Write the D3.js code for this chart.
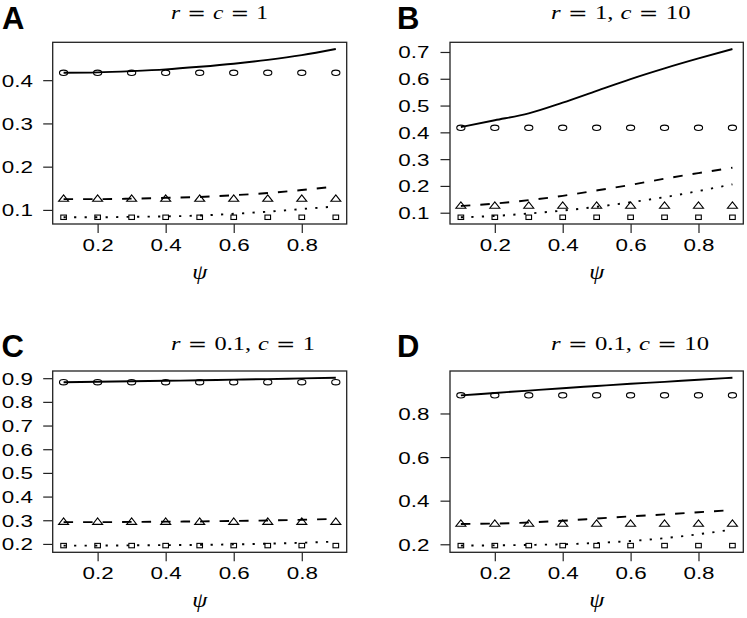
<!DOCTYPE html>
<html><head><meta charset="utf-8">
<script src="https://cdn.jsdelivr.net/npm/d3@7"></script>
<style>body{margin:0;background:#fff}</style>
</head><body>
<svg id="chart" width="747" height="618"></svg>
<script>
// ---- data ----
const psi = [0.1, 0.2, 0.3, 0.4, 0.5, 0.6, 0.7, 0.8, 0.9];
const xTicks = [0.2, 0.4, 0.6, 0.8];
const panelLetters = ["A", "B", "C", "D"];
// title tokens: [text, kind]  kind: "i" italic variable, "n" upright, "op" relation
const panelTitles = [
  [["r", "i"], ["=", "op"], ["c", "i"], ["=", "op"], ["1", "n"]],
  [["r", "i"], ["=", "op"], ["1,", "n"], ["c", "i"], ["=", "op"], ["10", "n"]],
  [["r", "i"], ["=", "op"], ["0.1,", "n"], ["c", "i"], ["=", "op"], ["1", "n"]],
  [["r", "i"], ["=", "op"], ["0.1,", "n"], ["c", "i"], ["=", "op"], ["10", "n"]]
];
const yTicksA = [0.1, 0.2, 0.3, 0.4];
const yTicksB = [0.1, 0.2, 0.3, 0.4, 0.5, 0.6, 0.7];
const yTicksC = [0.2, 0.3, 0.4, 0.5, 0.6, 0.7, 0.8, 0.9];
const yTicksD = [0.2, 0.4, 0.6, 0.8];

// Panel A (r = c = 1)
const solidA  = [0.417, 0.418, 0.421, 0.425, 0.431, 0.438, 0.447, 0.458, 0.472];
const circleA = [0.417, 0.417, 0.417, 0.417, 0.417, 0.417, 0.417, 0.417, 0.417];
const dashA   = [0.125, 0.125, 0.126, 0.128, 0.130, 0.134, 0.139, 0.146, 0.154];
const triA    = [0.125, 0.125, 0.125, 0.125, 0.125, 0.125, 0.125, 0.125, 0.125];
const dotA    = [0.083, 0.083, 0.084, 0.085, 0.087, 0.091, 0.096, 0.102, 0.108];
const sqA     = [0.083, 0.083, 0.083, 0.083, 0.083, 0.083, 0.083, 0.083, 0.083];
// Panel B (r = 1, c = 10)
const solidB  = [0.420, 0.445, 0.471, 0.511, 0.555, 0.599, 0.639, 0.676, 0.711];
const circleB = [0.417, 0.417, 0.417, 0.417, 0.417, 0.417, 0.417, 0.417, 0.417];
const dashB   = [0.125, 0.134, 0.147, 0.163, 0.183, 0.204, 0.227, 0.248, 0.268];
const triB    = [0.125, 0.125, 0.125, 0.125, 0.125, 0.125, 0.125, 0.125, 0.125];
const dotB    = [0.083, 0.088, 0.097, 0.108, 0.122, 0.139, 0.158, 0.181, 0.206];
const sqB     = [0.083, 0.083, 0.083, 0.083, 0.083, 0.083, 0.083, 0.083, 0.083];
// Panel C (r = 0.1, c = 1)
const solidC  = [0.883, 0.885, 0.887, 0.889, 0.891, 0.894, 0.896, 0.899, 0.902];
const circleC = [0.883, 0.883, 0.883, 0.883, 0.883, 0.883, 0.883, 0.883, 0.883];
const dashC   = [0.292, 0.292, 0.293, 0.294, 0.295, 0.297, 0.299, 0.302, 0.306];
const triC    = [0.292, 0.292, 0.292, 0.292, 0.292, 0.292, 0.292, 0.292, 0.292];
const dotC    = [0.193, 0.193, 0.194, 0.195, 0.196, 0.198, 0.201, 0.205, 0.210];
const sqC     = [0.193, 0.193, 0.193, 0.193, 0.193, 0.193, 0.193, 0.193, 0.193];
// Panel D (r = 0.1, c = 10)
const solidD  = [0.883, 0.894, 0.905, 0.916, 0.926, 0.936, 0.945, 0.955, 0.964];
const circleD = [0.883, 0.883, 0.883, 0.883, 0.883, 0.883, 0.883, 0.883, 0.883];
const dashD   = [0.293, 0.295, 0.300, 0.308, 0.318, 0.328, 0.337, 0.347, 0.357];
const triD    = [0.293, 0.293, 0.293, 0.293, 0.293, 0.293, 0.293, 0.293, 0.293];
const dotD    = [0.194, 0.195, 0.197, 0.200, 0.206, 0.215, 0.228, 0.246, 0.268];
const sqD     = [0.194, 0.194, 0.194, 0.194, 0.194, 0.194, 0.194, 0.194, 0.194];

// ---- layout ----
const panels = [
  {letter: panelLetters[0], title: panelTitles[0], yTicks: yTicksA, lines: [solidA, dashA, dotA], marks: [circleA, triA, sqA],
   x0: 52.7, x1: 346.7, y0: 42.3, y1: 224, lx: 2, ly: 28.5, tx: 171, ty: 19.3, tw: 97, ylabR: 33},
  {letter: panelLetters[1], title: panelTitles[1], yTicks: yTicksB, lines: [solidB, dashB, dotB], marks: [circleB, triB, sqB],
   x0: 450, x1: 743.3, y0: 42.3, y1: 224, lx: 397, ly: 28.5, tx: 551, ty: 19.3, tw: 139.5, ylabR: 429.5},
  {letter: panelLetters[2], title: panelTitles[2], yTicks: yTicksC, lines: [solidC, dashC, dotC], marks: [circleC, triC, sqC],
   x0: 52.7, x1: 346.7, y0: 371, y1: 552.3, lx: 1.5, ly: 357, tx: 171, ty: 350, tw: 144, ylabR: 33},
  {letter: panelLetters[3], title: panelTitles[3], yTicks: yTicksD, lines: [solidD, dashD, dotD], marks: [circleD, triD, sqD],
   x0: 450, x1: 743.3, y0: 371, y1: 552.3, lx: 397, ly: 357.3, tx: 551, ty: 350, tw: 158, ylabR: 429.5}
];
const dashes = [null, "9.5,10", "2.2,8.3"];
const SX = 1.4;   // horizontal stretch of tick labels in the original raster
const TFS = 18.5; // title font size

const svg = d3.select("#chart");
svg.append("rect").attr("width", 747).attr("height", 618).attr("fill", "#fff");

function pad(ext) { const d = (ext[1] - ext[0]) * 0.04; return [ext[0] - d, ext[1] + d]; }

panels.forEach(p => {
  const g = svg.append("g");
  const x = d3.scaleLinear().domain(pad(d3.extent(psi))).range([p.x0, p.x1]);
  const all = p.lines.concat(p.marks).flat();
  const y = d3.scaleLinear().domain(pad(d3.extent(all))).range([p.y1, p.y0]);

  // panel letter
  g.append("text").attr("x", p.lx).attr("y", p.ly)
    .attr("font-family", "Liberation Sans, Arial, sans-serif").attr("font-weight", "bold")
    .attr("font-size", 31).attr("fill", "#000").text(p.letter);

  // title (math style): thick spaces around relations, thin space after commas
  const t = g.append("text").attr("font-family", "Liberation Serif, serif").attr("font-size", TFS).attr("fill", "#000");
  let prevKind = null, prevText = "";
  p.title.forEach((seg, i) => {
    let dx = 0;
    if (i > 0) {
      if (seg[1] === "op" || prevKind === "op") dx = 0.3 * TFS;
      else if (prevText.endsWith(",")) dx = 0.28 * TFS;
    }
    const ts = t.append("tspan").attr("dx", dx).text(seg[0]);
    if (seg[1] === "i") ts.attr("font-style", "italic");
    if (seg[1] === "op") ts.attr("font-family", "DejaVu Sans, sans-serif").attr("font-size", TFS * 0.95);
    prevKind = seg[1]; prevText = seg[0];
  });
  const natural = t.node().getBBox().width;
  t.attr("transform", `translate(${p.tx},${p.ty}) scale(${p.tw / natural},1)`);

  // y axis
  const yAxis = d3.axisLeft(y).tickValues(p.yTicks).tickSize(9.5).tickPadding(0).tickFormat(d3.format(".1f"));
  const ya = g.append("g").attr("transform", `translate(${p.x0},0)`).call(yAxis);
  ya.select(".domain").remove();
  ya.selectAll(".tick line").attr("stroke", "#222").attr("stroke-width", 1.2);
  ya.selectAll(".tick text").attr("x", null).attr("dy", null)
    .attr("font-family", "Liberation Sans, Arial, sans-serif").attr("font-size", 16).attr("fill", "#000")
    .attr("text-anchor", "end")
    .attr("transform", `translate(${p.ylabR - p.x0},6) scale(${SX},1)`);

  // x axis
  const xAxis = d3.axisBottom(x).tickValues(xTicks).tickSize(9).tickPadding(0).tickFormat(d3.format(".1f"));
  const xa = g.append("g").attr("transform", `translate(0,${p.y1})`).call(xAxis);
  xa.select(".domain").remove();
  xa.selectAll(".tick line").attr("stroke", "#222").attr("stroke-width", 1.2);
  xa.selectAll(".tick text").attr("y", null).attr("dy", null)
    .attr("font-family", "Liberation Sans, Arial, sans-serif").attr("font-size", 16).attr("fill", "#000")
    .attr("transform", `translate(0,27) scale(${SX},1)`);

  // x label psi
  g.append("text").attr("font-family", "Liberation Serif, serif").attr("font-style", "italic")
    .attr("font-size", 21).attr("text-anchor", "middle").attr("fill", "#000")
    .attr("transform", `translate(${(p.x0 + p.x1) / 2},${p.y1 + 55}) scale(1.15,1)`).text("ψ");

  // lines
  const line = d3.line().x((d, i) => x(psi[i])).y(d => y(d)).curve(d3.curveMonotoneX);
  p.lines.forEach((s, k) => {
    g.append("path").datum(s).attr("d", line).attr("fill", "none").attr("stroke", "#000")
      .attr("stroke-width", 1.9).attr("stroke-dasharray", dashes[k]);
  });

  // markers
  const mk = g.append("g").attr("fill", "none").attr("stroke", "#000").attr("stroke-width", 1.1);
  mk.selectAll("ellipse").data(p.marks[0]).join("ellipse")
    .attr("cx", (d, i) => x(psi[i])).attr("cy", d => y(d)).attr("rx", 4.1).attr("ry", 2.7);
  const tri = "M-5,2.2L5,2.2L0,-4.2Z";
  mk.selectAll("path.tri").data(p.marks[1]).join("path").attr("class", "tri")
    .attr("transform", (d, i) => `translate(${x(psi[i])},${y(d)})`).attr("d", tri);
  mk.selectAll("rect").data(p.marks[2]).join("rect")
    .attr("x", (d, i) => x(psi[i]) - 2.8).attr("y", d => y(d) - 2.2).attr("width", 5.6).attr("height", 4.4);

  // box
  g.append("rect").attr("x", p.x0).attr("y", p.y0).attr("width", p.x1 - p.x0).attr("height", p.y1 - p.y0)
    .attr("fill", "none").attr("stroke", "#222").attr("stroke-width", 1.3);
});
</script>
</body></html>
